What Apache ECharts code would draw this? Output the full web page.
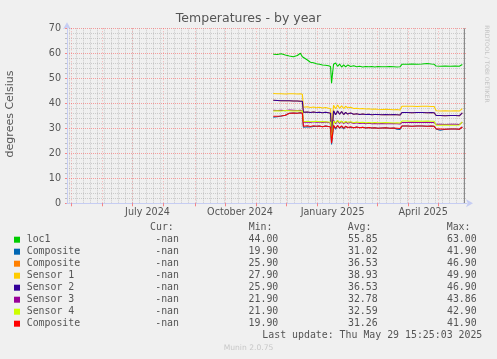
<!DOCTYPE html>
<html><head><meta charset="utf-8">
<script src="https://cdn.jsdelivr.net/npm/echarts@6/dist/echarts.min.js"></script>
<style>html,body{margin:0;padding:0;background:#f0f0f0;}#c{width:497px;height:359px;}</style>
</head><body><div id="c"></div>
<script>
// ---- data ----
const dates = ['2024-11-18','2024-11-22','2024-11-26','2024-11-30','2024-12-04','2024-12-08','2024-12-12','2024-12-15','2024-12-17','2024-12-18',
 '2024-12-22','2024-12-25','2024-12-28','2024-12-31','2025-01-03','2025-01-06','2025-01-09','2025-01-12','2025-01-14','2025-01-15',
 '2025-01-16','2025-01-17','2025-01-19','2025-01-21','2025-01-23','2025-01-25','2025-01-27','2025-01-29','2025-01-31','2025-02-03',
 '2025-02-06','2025-02-09','2025-02-12','2025-02-15','2025-02-18','2025-02-21','2025-02-24','2025-02-27','2025-03-02','2025-03-06',
 '2025-03-10','2025-03-14','2025-03-18','2025-03-21','2025-03-24','2025-03-26','2025-03-31','2025-04-05','2025-04-10','2025-04-15',
 '2025-04-20','2025-04-24','2025-04-27','2025-04-29','2025-05-03','2025-05-08','2025-05-13','2025-05-18','2025-05-22','2025-05-25'];
const loc1 = [59.6,59.5,59.8,59.3,58.9,58.6,59.1,60.0,58.6,57.8, 57.3,56.4,56.2,55.8,55.6,55.3,55.2,55.0,54.7,48.0,
 52.0,55.6,56.1,54.8,55.7,54.5,55.4,54.6,55.3,54.7, 55.0,54.6,54.8,54.5,54.7,54.6,54.7,54.5,54.7,54.6,
 54.6,54.7,54.6,54.5,54.6,55.6,55.6,55.7,55.6,55.7, 55.9,55.7,55.6,54.9,54.8,54.9,54.8,54.9,54.8,55.5];
const composite1 = [34.4,34.6,34.9,35.2,36.0,36.1,36.0,36.2,36.0,30.4, 30.6,30.5,30.7,30.8,30.9,30.6,30.9,30.7,30.5,23.5,
 27.2,31.0,29.6,31.1,30.0,30.8,29.8,30.8,30.3,30.3, 30.2,30.5,30.2,30.4,30.1,30.3,30.1,30.2,30.0,30.1,
 30.2,30.0,30.1,29.6,29.5,30.9,30.9,30.8,30.9,30.9, 30.8,30.9,30.8,29.7,29.2,29.6,29.7,29.7,29.6,30.5];
const composite2 = [41.2,41.1,41.0,41.0,41.0,40.9,40.9,40.8,40.8,36.4, 36.5,36.3,36.5,36.3,36.4,36.2,36.4,36.2,36.0,27.0,
 31.5,37.0,35.4,36.9,35.6,36.7,35.5,36.4,35.7,36.1, 35.6,35.8,35.5,35.7,35.5,35.6,35.4,35.5,35.5,35.4,
 35.5,35.4,35.5,35.4,35.3,36.3,36.3,36.2,36.3,36.3, 36.2,36.3,36.2,35.1,35.1,35.0,35.1,35.1,35.0,36.2];
const sensor1 = [43.9,43.8,43.8,43.7,43.8,43.8,43.7,43.8,43.6,38.4, 38.6,38.3,38.5,38.2,38.4,38.1,38.3,38.0,37.8,30.0,
 34.5,39.2,37.8,39.3,38.0,39.0,37.9,38.8,38.2,38.4, 37.9,38.0,37.8,37.9,37.7,37.8,37.6,37.7,37.6,37.5,
 37.6,37.5,37.4,37.5,37.3,38.8,38.8,38.8,38.7,38.8, 38.8,38.7,38.7,37.0,36.9,37.0,36.9,37.0,36.9,37.9];
const sensor2 = [41.2,41.1,41.0,41.0,41.0,40.9,40.9,40.8,40.8,36.4, 36.5,36.3,36.5,36.3,36.4,36.2,36.4,36.2,36.0,27.0,
 31.5,37.0,35.4,36.9,35.6,36.7,35.5,36.4,35.7,36.1, 35.6,35.8,35.5,35.7,35.5,35.6,35.4,35.5,35.5,35.4,
 35.5,35.4,35.5,35.4,35.3,36.3,36.3,36.2,36.3,36.3, 36.2,36.3,36.2,35.1,35.1,35.0,35.1,35.1,35.0,36.2];
const sensor3 = [37.2,37.1,37.2,37.0,37.3,37.2,37.1,37.2,37.0,32.4, 32.5,32.3,32.6,32.4,32.5,32.3,32.5,32.3,32.1,25.0,
 28.5,33.2,31.8,33.0,32.0,32.8,31.9,32.6,32.0,32.4, 31.9,32.2,31.9,32.1,31.8,32.0,31.8,31.9,31.8,31.9,
 31.8,31.8,31.9,31.8,31.7,32.3,32.3,32.4,32.3,32.3, 32.4,32.3,32.3,31.6,31.6,31.5,31.6,31.6,31.5,32.5];
const sensor4 = [36.9,37.0,36.9,37.1,37.0,36.9,37.0,36.9,37.0,32.6, 32.8,32.6,32.7,32.8,32.6,32.7,32.6,32.5,32.4,25.0,
 28.7,32.8,32.2,33.2,32.3,32.9,32.2,32.7,32.4,32.6, 32.2,32.5,32.3,32.4,32.2,32.3,32.2,32.3,32.2,32.2,
 32.3,32.2,32.1,32.2,32.1,32.9,32.9,32.8,32.9,32.8, 32.9,32.8,32.8,31.2,31.2,31.3,31.2,31.2,31.3,32.6];
const composite3 = [34.8,34.8,34.9,35.2,36.0,36.1,36.0,36.2,36.0,30.8, 31.0,30.7,31.0,30.8,30.9,30.6,30.9,30.7,30.5,24.0,
 27.5,31.2,30.0,31.1,30.2,31.0,30.1,30.8,30.3,30.6, 30.2,30.5,30.2,30.4,30.1,30.3,30.1,30.2,30.0,30.1,
 30.2,30.0,30.1,30.0,29.9,30.9,30.9,30.8,30.9,30.9, 30.8,30.9,30.8,29.7,29.7,29.6,29.7,29.7,29.6,30.5];

const seriesNames = ['loc1','Composite','Composite','Sensor 1','Sensor 2','Sensor 3','Sensor 4','Composite'];
const seriesValues = [loc1, composite1, composite2, sensor1, sensor2, sensor3, sensor4, composite3];
const seriesColors = ['#00cc00','#0066b3','#ff8000','#ffcc00','#330099','#990099','#ccff00','#ff0000'];
const curVals = ['-nan','-nan','-nan','-nan','-nan','-nan','-nan','-nan'];
const minVals = ['44.00','19.90','25.90','27.90','25.90','21.90','21.90','19.90'];
const avgVals = ['55.85','31.02','36.53','38.93','36.53','32.78','32.59','31.26'];
const maxVals = ['63.00','41.90','46.90','49.90','46.90','43.86','42.90','41.90'];
const xLabelMonths = ['2024-07-01','2024-10-01','2025-01-01','2025-04-01'];
const xTickLabels = ['July 2024','October 2024','January 2025','April 2025'];
const xStart = '2024-04-27T00:00:00Z';
const xEnd = '2025-05-29T15:25:03Z';
const ruleDate = '2025-05-26T12:00:00Z';
const yMin = 0, yMax = 70, yStep = 10;
const titleText = 'Temperatures - by year';
const yName = 'degrees Celsius';
const lastUpdate = 'Last update: Thu May 29 15:25:03 2025';
const footer = 'Munin 2.0.75';
const watermark = 'RRDTOOL / TOBI OETIKER';

// ---- build ----
const DAY = 86400000;
const ms = d => Date.parse(d.length === 10 ? d + 'T00:00:00Z' : d);
const xMin = ms(xStart), xMax = ms(xEnd);
const monthStarts = [];
for (let y = 2024, m = 4; ; ) { const t = Date.UTC(y, m, 1); if (t > xMax) break; if (t >= xMin) monthStarts.push(t); m++; if (m > 11) { m = 0; y++; } }
const weekStarts = [];
for (let t = Date.UTC(2024, 3, 29); t <= xMax; t += 7 * DAY) weekStarts.push(t);
const labelPos = xLabelMonths.map(d => ms(d) + 15 * DAY);

const TXT = '#555';
const MAJOR = 'rgba(255,0,0,0.35)';
const MAJOR_V = 'rgba(255,0,0,0.27)';
const MINOR = 'rgba(128,128,128,0.33)';
const AXIS = '#c6cdf3';
const ruleSeries = {
  type: 'line', data: [], silent: true,
  markLine: {
    z: 1, silent: true, symbol: ['none', 'none'], label: { show: false }, animation: false,
    data: [{ xAxis: ms(ruleDate), lineStyle: { color: '#8a8a8a', type: 'solid', width: 1 } }]
  }
};
const lineSeries = seriesValues.map((vals, i) => ({
  name: seriesNames[i], type: 'line', showSymbol: false, symbol: 'none', z: 2,
  lineStyle: { width: 1.1, color: seriesColors[i] }, itemStyle: { color: seriesColors[i] },
  data: dates.map((d, j) => [ms(d), vals[j]])
}));

const graphic = [
  { type: 'text', x: 248.5, y: 19, style: { text: titleText, font: '12.5px "DejaVu Sans"', fill: TXT, align: 'center', verticalAlign: 'middle' } },
  { type: 'text', x: 10, y: 114, rotation: Math.PI / 2, style: { text: yName, font: '11px "DejaVu Sans"', fill: TXT, align: 'center', verticalAlign: 'middle' } },
  { type: 'text', x: 487, y: 64, rotation: -Math.PI / 2, style: { text: watermark, font: '6px "DejaVu Sans"', fill: '#c4c4c4', align: 'center', verticalAlign: 'middle' } },
  { type: 'text', x: 248.5, y: 348.5, style: { text: footer, font: '7.6px "DejaVu Sans"', fill: '#c8c8c8', align: 'center', verticalAlign: 'middle' } }
];
const MONO = '9.9px "DejaVu Sans Mono"';
const hdrY = 227.5, row0 = 239.7, rowH = 12;
[['Cur:', 150], ['Min:', 248.7], ['Avg:', 347.7], ['Max:', 446.7]].forEach(([t, x]) =>
  graphic.push({ type: 'text', x: x, y: hdrY, style: { text: t, font: MONO, fill: TXT, align: 'left', verticalAlign: 'middle' } }));
seriesNames.forEach((n, i) => {
  const y = row0 + i * rowH;
  graphic.push({ type: 'rect', shape: { x: 14, y: y - 3, width: 6, height: 6 }, style: { fill: seriesColors[i] } });
  graphic.push({ type: 'text', x: 26.7, y: y, style: { text: n, font: MONO, fill: TXT, align: 'left', verticalAlign: 'middle' } });
  graphic.push({ type: 'text', x: 179, y: y, style: { text: curVals[i], font: MONO, fill: TXT, align: 'right', verticalAlign: 'middle' } });
  graphic.push({ type: 'text', x: 278.3, y: y, style: { text: minVals[i], font: MONO, fill: TXT, align: 'right', verticalAlign: 'middle' } });
  graphic.push({ type: 'text', x: 377.7, y: y, style: { text: avgVals[i], font: MONO, fill: TXT, align: 'right', verticalAlign: 'middle' } });
  graphic.push({ type: 'text', x: 476.7, y: y, style: { text: maxVals[i], font: MONO, fill: TXT, align: 'right', verticalAlign: 'middle' } });
});
graphic.push({ type: 'text', x: 482.3, y: 335.5, style: { text: lastUpdate, font: MONO, fill: TXT, align: 'right', verticalAlign: 'middle' } });

const chart = echarts.init(document.getElementById('c'), null, { renderer: 'canvas' });
chart.setOption({
  animation: false,
  backgroundColor: '#f0f0f0',
  grid: { left: 67, top: 28.3, width: 400, height: 175, containLabel: false },
  xAxis: [{
    type: 'value', min: xMin, max: xMax, z: 1,
    axisLine: { show: false },
    axisTick: { show: false, customValues: weekStarts },
    axisLabel: { show: false },
    splitLine: { show: true, lineStyle: { color: MINOR, type: [1, 1], width: 1 } }
  }, {
    type: 'value', min: xMin, max: xMax, position: 'bottom', z: 2,
    axisLine: { show: true, lineStyle: { color: AXIS, width: 1 }, symbol: ['none', 'arrow'], symbolSize: [6, 7], symbolOffset: [0, 6] },
    axisTick: { show: true, customValues: monthStarts, length: 3, lineStyle: { color: 'rgba(255,0,0,0.45)' } },
    axisLabel: {
      customValues: labelPos, color: TXT, fontSize: 9.6, fontFamily: 'DejaVu Sans', margin: 4, hideOverlap: false,
      formatter: v => { let best = 0; labelPos.forEach((p, i) => { if (Math.abs(p - v) < Math.abs(labelPos[best] - v)) best = i; }); return xTickLabels[best]; }
    },
    splitLine: { show: true, lineStyle: { color: MAJOR_V, type: [1, 2], width: 1 } }
  }],
  yAxis: {
    type: 'value', min: yMin, max: yMax, interval: yStep,
    axisLine: { show: true, lineStyle: { color: AXIS, width: 1 }, symbol: ['none', 'arrow'], symbolSize: [6, 7], symbolOffset: [0, 6] },
    axisTick: { show: true, length: 2, lineStyle: { color: 'rgba(255,0,0,0.45)' } },
    minorTick: { show: true, splitNumber: 5, length: 2, lineStyle: { color: 'rgba(128,128,128,0.45)' } },
    axisLabel: { color: TXT, fontSize: 9.6, fontFamily: 'DejaVu Sans', margin: 6 },
    splitLine: { show: true, lineStyle: { color: MAJOR, type: [1, 1], width: 1 } },
    minorSplitLine: { show: true, lineStyle: { color: MINOR, type: [1, 1], width: 1 } }
  },
  series: [Object.assign(ruleSeries, { xAxisIndex: 1 })].concat(lineSeries.map(s => Object.assign(s, { xAxisIndex: 1 }))),
  graphic: graphic
});
</script></body></html>
